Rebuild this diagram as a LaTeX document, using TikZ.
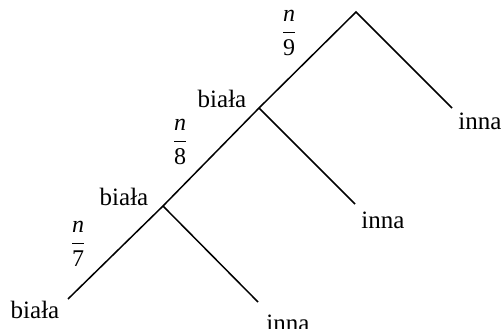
\documentclass[tikz,border=0pt]{standalone}
\usepackage{fontspec}
\setmainfont{Liberation Serif}
\begin{document}
\begin{tikzpicture}[x=1pt,y=-1pt,
  branch/.style={line width=1.5pt, line cap=butt},
  lbl/.style={font=\fontsize{25}{29}\selectfont, inner sep=0pt, anchor=base},
  fracl/.style={font=\fontsize{24}{28}\selectfont, inner sep=0pt, anchor=base}]
\useasboundingbox (0,0) rectangle (504,329);
% tree junctions and leaf ends
\coordinate (top) at (356,12);
\coordinate (j1) at (259,108);
\coordinate (j2) at (163,206);
\coordinate (e0) at (68,299);
\coordinate (r1) at (452,108);
\coordinate (r2) at (355,204);
\coordinate (r3) at (258,302);
% branches
\draw[branch] (e0) -- (j2) -- (j1) -- (top) -- (r1);
\draw[branch] (j1) -- (r2);
\draw[branch] (j2) -- (r3);
% outcome labels
\node[lbl] (w1) at (222,107) {biała};
\node[lbl] (w2) at (124,205) {biała};
\node[lbl] (w3) at (35,318) {biała};
\node[lbl] (o1) at (480,130) {inna};
\node[lbl] (o2) at (383,228) {inna};
\node[lbl] (o3) at (288,331) {inna};
% probabilities on the branches
\node[fracl] (p9) at (289,38) {$\displaystyle\frac{\textit{n}}{\textrm{9}}$};
\node[fracl] (p8) at (180,147) {$\displaystyle\frac{\textit{n}}{\textrm{8}}$};
\node[fracl] (p7) at (78,249) {$\displaystyle\frac{\textit{n}}{\textrm{7}}$};
\end{tikzpicture}
\end{document}
